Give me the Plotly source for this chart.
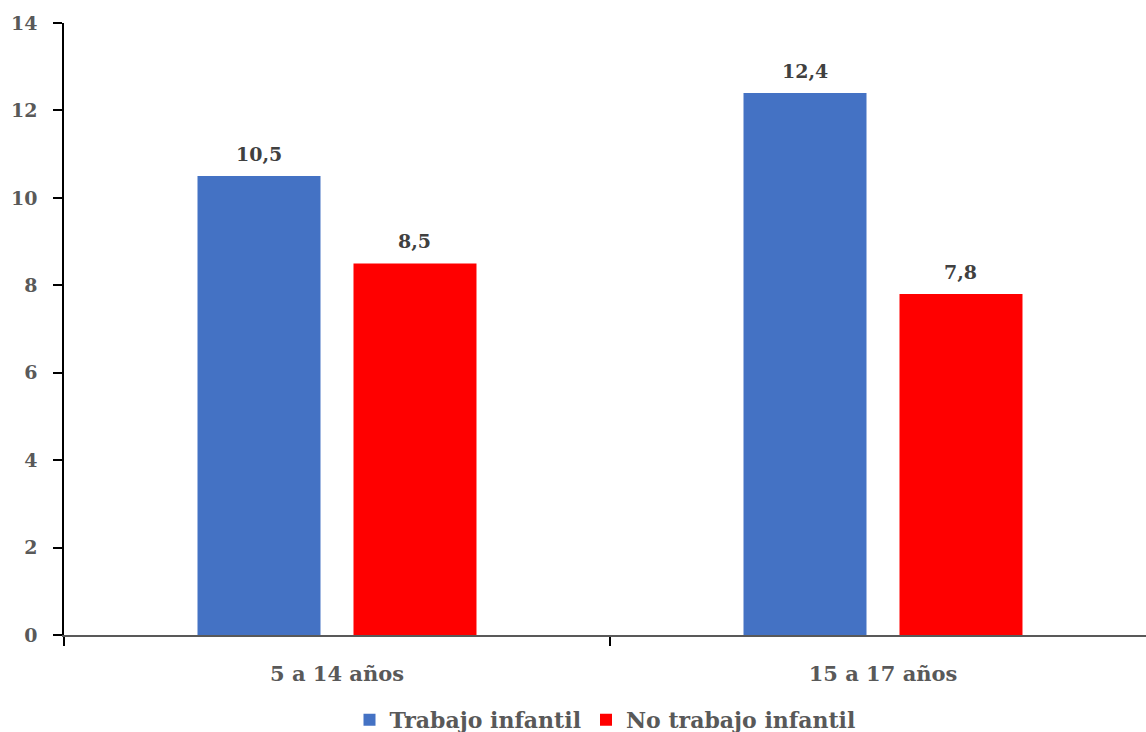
import plotly.graph_objects as go

# Grupos de edad y tasas por condición de trabajo infantil
categorias = ["5 a 14 años", "15 a 17 años"]
trabajo_infantil = [10.5, 12.4]
no_trabajo_infantil = [8.5, 7.8]
y_ticks = [0, 2, 4, 6, 8, 10, 12, 14]

FUENTE = "DejaVu Serif"
GRIS = "#595959"
BARGAP = 0.4286
BARGROUPGAP = 0.2115

series = [
    ("Trabajo infantil", trabajo_infantil, "#4472C4"),
    ("No trabajo infantil", no_trabajo_infantil, "#FF0000"),
]

fig = go.Figure()
for nombre, valores, color in series:
    fig.add_trace(go.Bar(
        name="<b>" + nombre + "</b>",
        x=categorias, y=valores,
        marker=dict(color=color, line=dict(width=0)),
    ))

# Etiquetas de valor sobre cada barra (centro de cada barra dentro del grupo)
ancho_slot = (1 - BARGAP) / len(series)
for i, (nombre, valores, color) in enumerate(series):
    desplazamiento = -(1 - BARGAP) / 2 + ancho_slot * (i + 0.5)
    for j, v in enumerate(valores):
        fig.add_annotation(
            x=j + desplazamiento, y=v, xref="x", yref="y",
            text="<b>" + ("%.1f" % v).replace(".", ",") + "</b>",
            showarrow=False, yanchor="bottom", yshift=9,
            font=dict(family=FUENTE, size=19, color="#404040"),
        )

fig.update_layout(
    width=1146, height=732,
    margin=dict(l=64, r=0, t=23, b=97, autoexpand=False),
    paper_bgcolor="white", plot_bgcolor="white",
    separators=",.",
    barmode="group", bargap=BARGAP, bargroupgap=BARGROUPGAP,
    font=dict(family=FUENTE, size=19, color=GRIS),
    showlegend=True,
    legend=dict(orientation="h", x=0.5, xanchor="center", y=-0.139, yanchor="middle",
                font=dict(family=FUENTE, size=22, color=GRIS),
                itemwidth=30, tracegroupgap=0),
)
fig.update_xaxes(
    type="category", range=[-0.5, 1.4817],
    showline=True, linecolor="#595959", linewidth=1.5,
    ticks="outside", tickson="boundaries", ticklen=9, tickcolor="black", tickwidth=1.5,
    tickfont=dict(family=FUENTE, size=21, color=GRIS),
    ticklabelstandoff=19,
    ticktext=["<b>" + c + "</b>" for c in categorias], tickvals=categorias,
    showgrid=False, zeroline=False,
)
fig.update_yaxes(
    range=[0, 14], tickvals=y_ticks,
    ticktext=["<b>%d</b>" % v for v in y_ticks],
    showline=True, linecolor="black", linewidth=1.5,
    ticks="outside", ticklen=9, tickcolor="black", tickwidth=1.5,
    tickfont=dict(family=FUENTE, size=19, color=GRIS),
    ticklabelstandoff=12,
    showgrid=False, zeroline=False,
)

fig.write_html("out.html")
